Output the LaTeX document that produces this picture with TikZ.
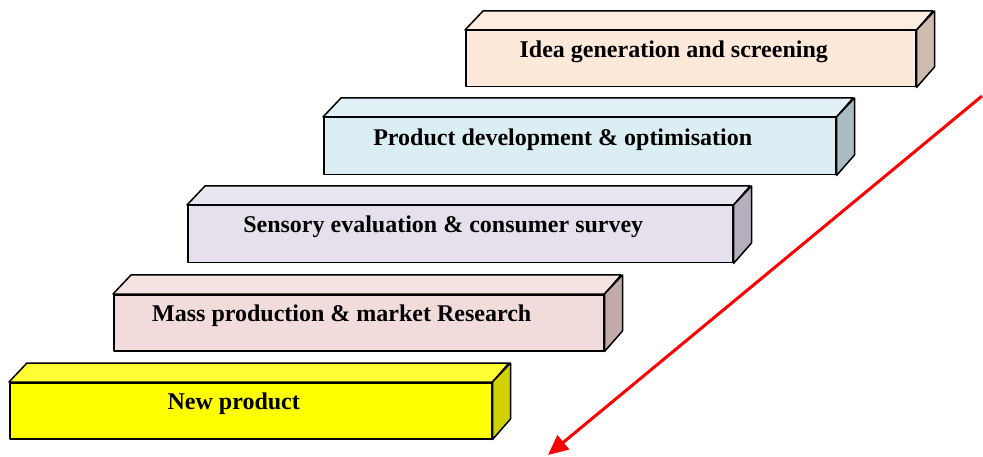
\documentclass[tikz,border=0pt]{standalone}
\usepackage{fontspec}
\setmainfont{Liberation Serif}
\usetikzlibrary{arrows.meta}
\definecolor{f1}{HTML}{FCE9DA}\definecolor{s1}{HTML}{CDBBAE}
\definecolor{f2}{HTML}{DBEEF3}\definecolor{s2}{HTML}{A9BCC1}
\definecolor{f3}{HTML}{E5E0EC}\definecolor{s3}{HTML}{B5AEBD}
\definecolor{f4}{HTML}{F2DCDB}\definecolor{s4}{HTML}{C2AAA9}
\definecolor{f5}{HTML}{FFFF00}\definecolor{s5}{HTML}{D2D200}\definecolor{t5}{HTML}{FFFF33}
\tikzset{
  face/.style={draw=black, line width=1.5pt, line join=round},
  front/.style={face, rectangle, inner sep=0pt, anchor=north west},
  lab/.style={font=\bfseries\fontsize{24}{28}\selectfont, inner sep=0pt}
}
\newcommand{\mybox}[8]{% name, x, y, w, h, front, top, side
  \node[front, fill=#6, minimum width=#4pt, minimum height=#5pt] (#1) at (#2,#3) {};
  \draw[face, fill=#7] (#1.north west) -- ++(18,-19) -- ++(#4,0) -- (#1.north east) -- cycle;
  \draw[face, fill=#8] (#1.north east) -- ++(18,-19) -- ++(0,#5) -- (#1.south east) -- cycle;
}
\begin{document}
\begin{tikzpicture}[x=1pt,y=-1pt]
\useasboundingbox (0,0) rectangle (983,457);
\mybox{b1}{465}{30}{450}{56}{f1}{f1!80!white}{s1}
\mybox{b2}{323}{117}{512}{57}{f2}{f2!80!white}{s2}
\mybox{b3}{187}{205}{545}{57}{f3}{f3!80!white}{s3}
\mybox{b4}{113}{294}{490}{56}{f4}{f4!80!white}{s4}
\mybox{b5}{9}{382}{482}{56}{f5}{t5}{s5}
\node[lab] (t1) at ([xshift=-17pt,yshift=7pt]b1.center) {Idea generation and screening};
\node[lab] (t2) at ([xshift=-17pt,yshift=7pt]b2.center) {Product development \& optimisation};
\node[lab] (t3) at ([xshift=-17pt,yshift=7pt]b3.center) {Sensory evaluation \& consumer survey};
\node[lab] (t4) at ([xshift=-17pt,yshift=7pt]b4.center) {Mass production \& market Research};
\node[lab] (t5) at ([xshift=-17pt,yshift=7pt]b5.center) {New product};
\coordinate (as) at (982,96);
\coordinate (ae) at (548,455);
\draw[red, line width=3pt, -{Triangle[length=20pt,width=18pt]}] (as) -- (ae);
\end{tikzpicture}
\end{document}
